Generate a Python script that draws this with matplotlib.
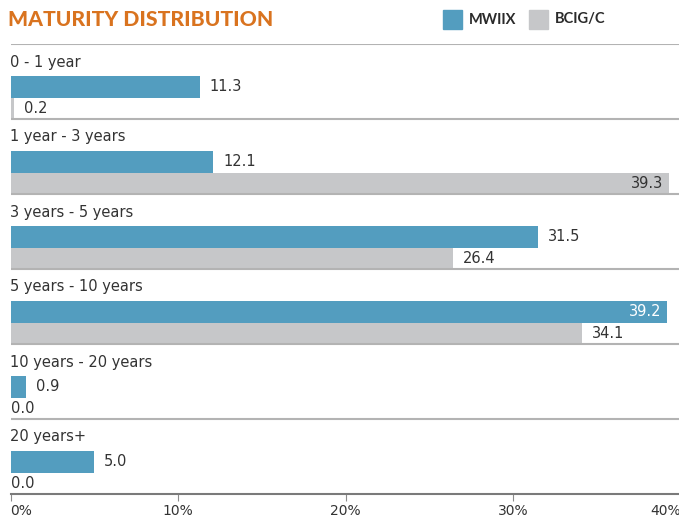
import numpy as np
import matplotlib.pyplot as plt
from matplotlib.patches import Rectangle

# maturity buckets and weights (%)
buckets = ["0 - 1 year", "1 year - 3 years", "3 years - 5 years",
           "5 years - 10 years", "10 years - 20 years", "20 years+"]
mwiix = [11.3, 12.1, 31.5, 39.2, 0.9, 5.0]
bcig = [0.2, 39.3, 26.4, 34.1, 0.0, 0.0]
series_names = ["MWIIX", "BCIG/C"]
xticks = [0, 10, 20, 30, 40]

blue = "#539dbf"
grey = "#c6c7c9"
orange = "#d9731f"
txt = "#333333"

W, H = 679, 517
fig = plt.figure(figsize=(W / 100, H / 100), dpi=100)
fig.patch.set_facecolor("white")

# axes placed in pixel units: left 10.5, top 44, bottom 494, 40% at 680.5
ax = fig.add_axes([10.5 / W, (H - 494) / H, 670 / W, 450 / H])
ax.set_xlim(0, 40)
ax.set_ylim(450, 0)

pitch = 75
bh = 21.5
idx = np.arange(len(buckets))
y_top = idx * pitch
y_blue = y_top + 32 + bh / 2
y_grey = y_top + 32 + bh * 1.5

ax.barh(y_blue, mwiix, height=bh, color=blue, zorder=2)
ax.barh(y_grey, bcig, height=bh, color=grey, zorder=2)

# separators between buckets
for y in y_top:
    ax.axhline(y, color="#b3b3b3", lw=1.5, zorder=3)

for i, name in enumerate(buckets):
    ax.text(0, y_top[i] + 18, name, fontsize=10.5, color=txt,
            va="center", ha="left")


def label(v, y, inside_color):
    s = f"{v:.1f}"
    if v == 0:
        ax.annotate(s, (0, y), xytext=(0, 0), textcoords="offset points",
                    ha="left", va="center", fontsize=10.5, color=txt)
    elif v > 37:
        ax.annotate(s, (v, y), xytext=(-4, 0), textcoords="offset points",
                    ha="right", va="center", fontsize=10.5, color=inside_color)
    else:
        ax.annotate(s, (v, y), xytext=(7.2, 0), textcoords="offset points",
                    ha="left", va="center", fontsize=10.5, color=txt)


for i in idx:
    label(mwiix[i], y_blue[i], "white")
    label(bcig[i], y_grey[i], txt)

for s in ["top", "right", "left"]:
    ax.spines[s].set_visible(False)
ax.spines["bottom"].set_color("#7a7a7a")
ax.spines["bottom"].set_linewidth(1.5)
ax.set_yticks([])
ax.set_xticks(xticks)
ax.set_xticklabels([f"{t}%" for t in xticks])
ax.tick_params(axis="x", direction="out", length=5, width=0.8,
               color="#8c8c8c", labelsize=10, labelcolor=txt, pad=2)
tl = ax.get_xticklabels()
tl[0].set_ha("left")
tl[-1].set_ha("right")

# title and legend
fig.text(8 / W, 1 - 20 / H, "MATURITY DISTRIBUTION", fontsize=15.2,
         fontweight="black", family="Lato", color=orange, va="center")
for j, (name, c, x0) in enumerate(zip(series_names, [blue, grey], [443, 529])):
    fig.patches.append(Rectangle((x0 / W, 1 - 29 / H), 19 / W, 19 / H,
                                 transform=fig.transFigure, color=c))
    fig.text((x0 + 26) / W, 1 - 19.5 / H, name, fontsize=10.5,
             fontweight="bold", family="Lato", color="#2b2b2b", va="center")

fig.savefig("out.png", dpi=100)
